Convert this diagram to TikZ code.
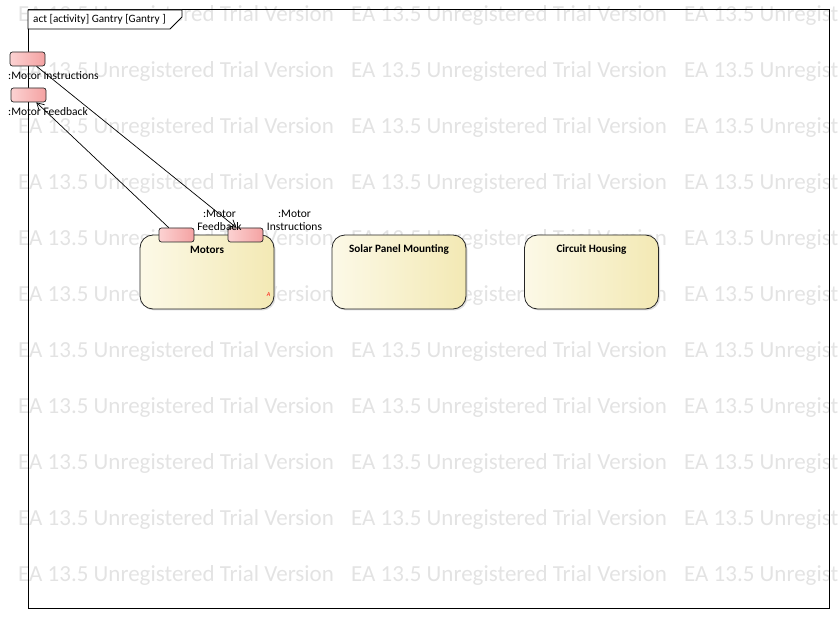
\documentclass[tikz,border=0pt]{standalone}
\usepackage{fontspec}
\setmainfont{Carlito}
\usetikzlibrary{arrows.meta}
\definecolor{actL}{RGB}{252,249,231}
\definecolor{actR}{RGB}{243,233,180}
\definecolor{pinL}{RGB}{252,210,210}
\definecolor{pinR}{RGB}{244,162,162}
\tikzset{
	wmark/.style={anchor=west,text=black!11,font=\fontsize{23}{26}\selectfont,inner sep=0pt},
	action/.style={draw=black!85,line width=0.8pt,rounded corners=13pt,minimum width=134pt,minimum height=74pt,
		preaction={fill=black!13,transform canvas={xshift=1.5pt,yshift=-1.5pt}},
		left color=actL,right color=actR},
	actname/.style={font=\fontsize{11.2}{13}\selectfont\bfseries,inner sep=0pt},
	pin/.style={draw=black!85,line width=0.7pt,rounded corners=2.5pt,minimum width=35pt,minimum height=14pt,
		inner sep=0pt,left color=pinL,right color=pinR},
	pinlabel/.style={font=\fontsize{11.5}{13}\selectfont,inner sep=0pt,align=center}
}
\begin{document}
\begin{tikzpicture}[x=1pt,y=-1pt,>={Straight Barb[length=7pt,width=8pt]}]

		\useasboundingbox (0,0) rectangle (838,620);
		\foreach \r in {0,...,10} \foreach \c in {0,1,2}
			\node[wmark] at (18+333*\c,15+56*\r) {EA 13.5 Unregistered Trial Version}; %watermark

		\draw[line width=1pt] (28,10) rectangle (829,608); %frame
		\filldraw[fill=white,line width=0.8pt] (28,10)--(182,10)--(182,17)--(170,29)--(28,29)--cycle;
		\node[anchor=west,font=\fontsize{11.2}{13}\selectfont,inner sep=0pt] (title) at (33,19.5) {act [activity] Gantry [Gantry ]};

		\node[action] (motors) at (207,272) {};
		\node[action] (solar) at (399,272) {};
		\node[action] (circuit) at (591.5,272) {};
		\node[actname] at (207,249.5) {Motors};
		\node[actname] at (399,249.5) {Solar Panel Mounting};
		\node[actname] at (591.5,249.5) {Circuit Housing};
		\node[text=red,font=\fontsize{6}{6}\selectfont\itshape,inner sep=0pt] at (268.5,295) {A};

		\node[pin] (pinI) at (27.5,59) {};
		\node[pin] (pinF) at (28.5,95) {};
		\node[pin] (motF) at (176.5,235) {};
		\node[pin] (motI) at (245.5,235) {};
		\node[pinlabel,anchor=west] at (8,76) {:Motor Instructions};
		\node[pinlabel,anchor=west] at (8,112) {:Motor Feedback};
		\node[pinlabel] at (219.5,220.5) {:Motor\\Feedback};
		\node[pinlabel] at (294.5,220.5) {:Motor\\Instructions};

		\draw[->,line width=0.7pt] (motF)--(pinF);
		\draw[->,line width=0.7pt] (pinI)--(motI);
	\end{tikzpicture}
\end{document}
